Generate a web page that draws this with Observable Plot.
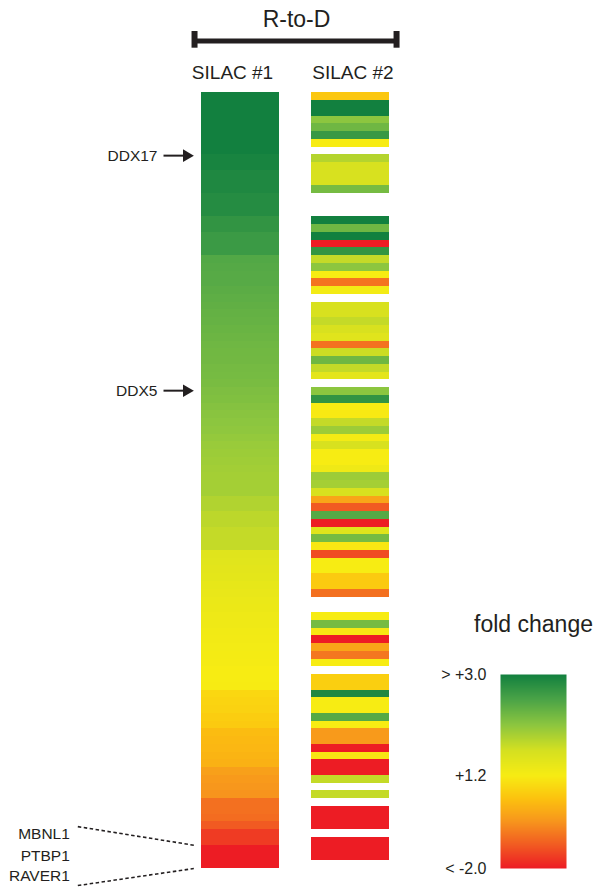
<!DOCTYPE html>
<html><head><meta charset="utf-8">
<script src="https://cdn.jsdelivr.net/npm/d3@7"></script>
<script src="https://cdn.jsdelivr.net/npm/@observablehq/plot@0.6"></script>
<style>
body{margin:0;background:#fff;}
#wrap{position:relative;width:595px;height:890px;overflow:hidden;font-family:"Liberation Sans",Arial,sans-serif;}
#main{position:absolute;left:0;top:0;}
#legend{position:absolute;left:420px;top:600px;}
</style></head><body><div id="wrap"><div id="main"></div><div id="legend"></div></div>
<script>
// ---------- data ----------
const columns = ["SILAC #1", "SILAC #2"];
const silac1 = [
  3.4, 3.35, 3.3, 3.25, 3.2, 3.15, 3.1, 3.05,
  2.95, 2.95,
  2.9, 2.9, 2.9,
  2.85, 2.85, 2.85,
  2.75, 2.75,
  2.68, 2.68, 2.68,
  2.5, 2.48, 2.47, 2.47,
  2.44, 2.42, 2.4, 2.38, 2.36, 2.34, 2.32, 2.3, 2.29, 2.28, 2.26, 2.25, 2.23,
  2.2, 2.18, 2.15, 2.12, 2.1, 2.08, 2.05, 2.02, 2.0, 1.98, 1.96,
  1.95, 1.95, 1.95,
  1.87, 1.87,
  1.8, 1.8,
  1.75, 1.75, 1.75,
  1.5, 1.48, 1.46, 1.44,
  1.4, 1.38, 1.36, 1.34,
  1.32, 1.3, 1.28, 1.27,
  1.25, 1.24, 1.22,
  1.2, 1.2, 1.18,
  0.8, 0.75, 0.7, 0.6, 0.55,
  0.3, 0.25, 0.2, 0.15, 0.1,
  -0.2, -0.3, -0.35, -0.4,
  -0.9, -0.9, -0.95,
  -1.2,
  -1.6, -1.6,
  -2.2, -2.3, -2.5
];
const silac2 = [
  0.5, 3.2, 3.2, 2.1, 2.3, 2.7, 1.2, null, 1.85, 1.6,
  1.6, 1.6, 2.25, null, null, null, 3.2, 2.3, 3.2, -2.2,
  2.75, 1.75, 2.1, 1.2, -0.85, 1.25, null, 1.6, 1.6, 1.75,
  1.6, 1.5, -0.85, 1.7, 2.3, 1.75, 1.45, null, 2.1, 2.75,
  1.2, 1.15, 1.75, 2.0, 1.25, 1.6, 1.2, 1.2, 1.3, 2.0,
  1.95, 1.6, -0.1, -1.2, 2.48, -2.2, 1.5, 2.25, 1.1, -1.4,
  1.2, 1.2, 0.55, 0.55, -0.9, null, null, 1.2, 2.25, 1.1,
  -2.1, -0.1, -0.8, 1.2, null, 0.65, 0.65, 2.9, 1.2, 1.2,
  2.48, 1.2, -0.3, -0.3, -2.1, 1.1, -2.1, -2.1, 1.75, null,
  1.75, null, -2.2, -2.2, -2.2, null, -2.2, -2.2, -2.2, null
];
const markedGenes = ["DDX17", "DDX5"];
const markedRows = [8.1, 38.4];
const bottomGenes = ["MBNL1", "PTBP1", "RAVER1"];
const bottomGeneRows = [95.6, 98.4, 101.0];
const legendTicks = [1, 0.48, 0];
const legendLabels = ["> +3.0", "+1.2", "< -2.0"];
const legendValues = [3, 1.2, -2];

// ---------- colour scale ----------
const colorDomain = [-2, -1.2, -0.4, 0.4, 1.2, 1.65, 2.1, 2.55, 3];
const colorRange = ["#ed1c24", "#f15a22", "#f7941d", "#fcc20f", "#f7ec13", "#d4e021", "#8cc63f", "#4ba447", "#12803f"];
const colorScale = {type: "linear", domain: colorDomain, range: colorRange, clamp: true};

// ---------- layout ----------
const colStart = [0, 1.4];
const ink = "#231f20";
const font = "Liberation Sans, Arial, sans-serif";

const cells = [];
[silac1, silac2].forEach((arr, c) => arr.forEach((v, i) => {
  if (v !== null) cells.push({col: c, row: i, value: v});
}));

const main = Plot.plot({
  width: 595, height: 890,
  marginLeft: 201, marginRight: 206, marginTop: 92.3, marginBottom: 22,
  x: {domain: [0, 2.4], axis: null},
  y: {domain: [0, 100], reverse: true, axis: null},
  color: colorScale,
  style: {fontFamily: font, color: ink, background: "transparent"},
  marks: [
    Plot.rect(cells, {
      x1: d => colStart[d.col], x2: d => colStart[d.col] + 1,
      y1: "row", y2: d => d.row + 1,
      fill: "value", shapeRendering: "crispEdges"
    }),
    Plot.text(columns, {x: (d, i) => [0.396, 1.934][i], y: -2.53, text: d => d, fontSize: 19, fill: ink}),
    Plot.text(["R-to-D"], {x: 1.213, y: -9.38, text: d => d, fontSize: 23, fill: ink}),
    Plot.ruleY([-6.68], {x1: -0.089, x2: 2.49, strokeWidth: 5, stroke: ink}),
    Plot.ruleX([-0.089, 2.49], {y1: -7.9, y2: -5.75, strokeWidth: 6, stroke: ink}),
    Plot.link(markedGenes, {
      x1: -0.485, x2: -0.2,
      y1: (d, i) => markedRows[i], y2: (d, i) => markedRows[i],
      strokeWidth: 2, stroke: ink
    }),
    Plot.dot(markedGenes, {
      x: -0.19, y: (d, i) => markedRows[i],
      symbol: "triangle2", rotate: 90, r: 6, fill: ink, stroke: null
    }),
    Plot.text(markedGenes, {x: -0.562, y: (d, i) => markedRows[i], text: d => d, textAnchor: "end", fontSize: 15.5, fill: ink}),
    Plot.text(bottomGenes, {x: -1.681, y: (d, i) => bottomGeneRows[i], text: d => d, textAnchor: "end", fontSize: 15.5, fill: ink}),
    Plot.link([0, 1], {
      x1: -1.579, x2: -0.098,
      y1: d => [94.6, 102.2][d], y2: d => [97, 100][d],
      stroke: ink, strokeWidth: 1.6, strokeDasharray: "3.5,2.5"
    })
  ]
});
document.getElementById("main").append(main);

// ---------- legend ----------
const legendPos = d3.scaleLinear().domain(legendTicks.slice().reverse()).range(legendValues.slice().reverse());
const legend = Plot.plot({
  width: 175, height: 280,
  marginLeft: 80, marginRight: 29, marginTop: 74, marginBottom: 12,
  x: {domain: [0, 1], axis: null},
  y: {domain: [0, 1]},
  color: colorScale,
  style: {fontFamily: font, color: ink, background: "transparent"},
  marks: [
    Plot.raster({x1: 0, x2: 1, y1: 0, y2: 1, width: 1, height: 194, fill: (x, y) => legendPos(y)}),
    Plot.axisY(legendTicks, {
      tickFormat: d => legendLabels[legendTicks.indexOf(d)],
      tickSize: 0, tickPadding: 14, fontSize: 16, label: null, fill: ink
    }),
    Plot.text(["fold change"], {x: 0.5, frameAnchor: "top", dy: -59, text: d => d, fontSize: 23, fill: ink})
  ]
});
document.getElementById("legend").append(legend);
</script></body></html>
